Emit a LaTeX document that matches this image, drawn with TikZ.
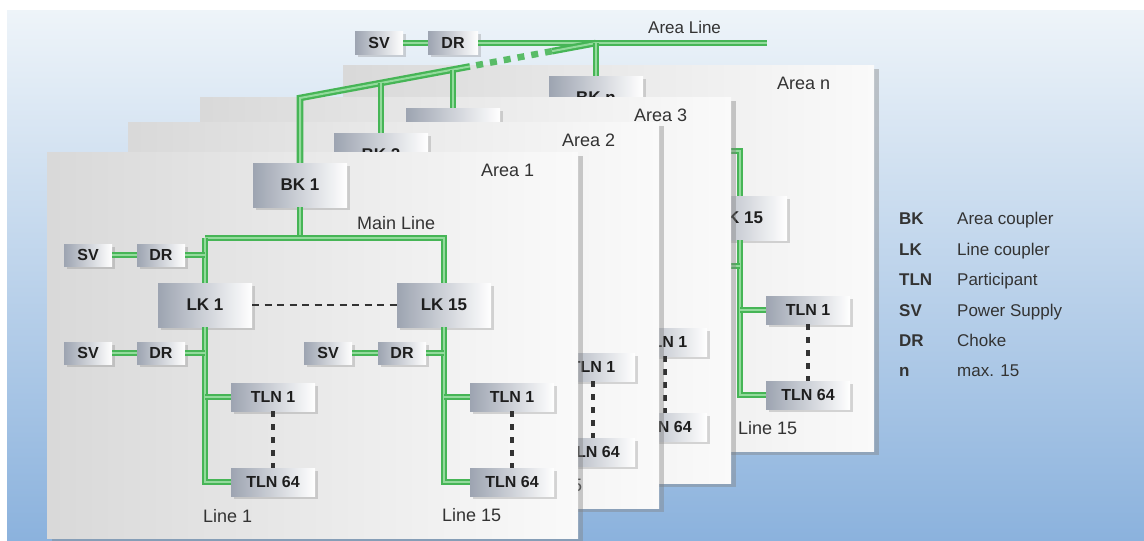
\documentclass[tikz,border=0pt]{standalone}
\usepackage{fontspec}
\setmainfont{Liberation Sans}
\usetikzlibrary{shadows,calc}
\definecolor{bgtop}{HTML}{EEF4F9}
\definecolor{bgbot}{HTML}{8BB2DD}
\definecolor{busg}{HTML}{46B556}
\definecolor{busl}{HTML}{93DA9C}
\definecolor{boxl}{HTML}{9DA4B1}
\definecolor{txt}{HTML}{1E1E1E}
\definecolor{lbltxt}{HTML}{333333}
\tikzset{
 panelbox/.style={anchor=north west, minimum width=531pt, minimum height=386pt, inner sep=0pt,
   left color=gray!30, right color=gray!4,
   drop shadow={shadow xshift=5pt, shadow yshift=-4pt, opacity=0.4}},
 dev/.style={inner sep=0pt, left color=boxl, right color=white, text=txt,
   drop shadow={shadow xshift=2.5pt, shadow yshift=-2.5pt, opacity=0.3}},
 bigdev/.style={dev, minimum width=94pt, minimum height=44pt, font=\bfseries\fontsize{17pt}{17pt}\selectfont},
 tlndev/.style={dev, minimum width=84pt, minimum height=28pt, font=\bfseries\fontsize{16pt}{16pt}\selectfont},
 smalldev/.style={dev, minimum width=48pt, minimum height=22pt, font=\bfseries\fontsize{16pt}{16pt}\selectfont},
 lbl/.style={inner sep=0pt, text=lbltxt, font=\fontsize{18pt}{18pt}\selectfont, anchor=base west},
 legkey/.style={inner sep=0pt, text=lbltxt, font=\bfseries\fontsize{17pt}{17pt}\selectfont, anchor=base west},
 legtxt/.style={inner sep=0pt, text=lbltxt, font=\fontsize{17pt}{17pt}\selectfont, anchor=base west},
 bus/.style={draw=busg, line width=2.3pt, double=busl, double distance=2pt},
 busdash/.style={draw=busg!90, line width=6.5pt, dash pattern=on 7pt off 7pt},
 lkdash/.style={draw=black!80, line width=2.5pt, dash pattern=on 7pt off 5.5pt},
 tlndot/.style={draw=black!80, line width=3.5pt, dash pattern=on 6pt off 7pt},
}
% #1 x, #2 y, #3 id, #4 area label, #5 BK label, #6 = 1 draws the left half (only visible on the front panel)
\newcommand\areapanel[6]{%
\begin{scope}[shift={(#1,#2)}]
\node[panelbox] (pan#3) at (0,0) {};
\node[lbl] (alab#3) at (434,24) {#4};
\node[bigdev] (bk#3) at (253,33) {#5};
\node[bigdev] (lkb#3) at (397,153) {LK 15};
\node[smalldev] (drc#3) at (355,201) {DR};
\node[tlndev] (tc#3) at (465,245) {TLN 1};
\node[tlndev] (td#3) at (465,330) {TLN 64};
\node[lbl] (lfif#3) at (395,369) {Line 15};
\coordinate (mj#3) at (253,86);
\coordinate (ml#3) at (158,86);
\coordinate (mr#3) at (397,86);
\draw[bus] (bk#3.south) -- (mj#3);
\draw[bus] (ml#3) -- (mr#3) -- (lkb#3.north);
\draw[bus] (lkb#3.south) |- (td#3.west);
\draw[bus] (tc#3.west) -- (tc#3.west -| lkb#3.south);
\draw[bus] (drc#3.east) -- (drc#3.east -| lkb#3.south);
\draw[tlndot] (tc#3.south) -- (td#3.north);
\ifnum#6=1
\node[lbl] (mlab#3) at (310,77) {Main Line};
\node[smalldev] (sva#3) at (41,103) {SV};
\node[smalldev] (dra#3) at (114,103) {DR};
\node[bigdev] (lka#3) at (158,153) {LK 1};
\node[smalldev] (svb#3) at (41,201) {SV};
\node[smalldev] (drb#3) at (114,201) {DR};
\node[smalldev] (svc#3) at (281,201) {SV};
\node[tlndev] (ta#3) at (226,245) {TLN 1};
\node[tlndev] (tb#3) at (226,330) {TLN 64};
\node[lbl] (lone#3) at (156,370) {Line 1};
\draw[bus] (lka#3.north) -- (ml#3);
\draw[bus] (lka#3.south) |- (tb#3.west);
\draw[bus] (ta#3.west) -- (ta#3.west -| lka#3.south);
\draw[bus] (sva#3.east) -- (dra#3.west);
\draw[bus] (dra#3.east) -- (dra#3.east -| lka#3.north);
\draw[bus] (svb#3.east) -- (drb#3.west);
\draw[bus] (drb#3.east) -- (drb#3.east -| lka#3.south);
\draw[bus] (svc#3.east) -- (drc#3.west);
\draw[lkdash] (lka#3.east) -- (lkb#3.west);
\draw[tlndot] (ta#3.south) -- (tb#3.north);
\fi
\end{scope}}
\begin{document}
\begin{tikzpicture}[x=1pt,y=-1pt]
\useasboundingbox (0,0) rectangle (1144,541);
\fill[white] (0,0) rectangle (1144,541);
\shade[top color=bgtop, bottom color=bgbot] (7,10) rectangle (1144,541);
\areapanel{343}{65}{n}{Area n}{BK n}{0}
\areapanel{200}{97}{3}{Area 3}{BK 3}{0}
\areapanel{128}{122}{2}{Area 2}{BK 2}{0}
\areapanel{47}{152}{1}{Area 1}{BK 1}{1}
% area line
\node[smalldev, minimum height=23pt] (svt) at (379,43) {SV};
\node[smalldev, minimum height=23pt, minimum width=50pt] (drt) at (453,43) {DR};
\node[lbl, font=\fontsize{17pt}{17pt}\selectfont] (altxt) at (648,33) {Area Line};
\coordinate (aend) at (767,43);
\coordinate (aj) at (596,43);
\coordinate (ac) at (300,98);
\coordinate (da) at ($(aj)!0.149!(ac)$);
\coordinate (db) at ($(aj)!0.426!(ac)$);
\coordinate (d3) at ($(aj)!0.483!(ac)$);
\coordinate (d2) at ($(aj)!0.726!(ac)$);
\draw[bus] (svt.east) -- (drt.west);
\draw[bus] (drt.east) -- (aend);
\draw[bus] (aj) -- (da);
\draw[busdash] (da) -- (db);
\draw[bus] (db) -- (ac) -- (bk1.north);
\draw[bus] (aj) -- (bkn.north);
\draw[bus] (d3) -- (d3 |- bk3.north);
\draw[bus] (d2) -- (d2 |- bk2.north);
% legend
\node[legkey] (k1) at (899,224) {BK};
\node[legkey] (k2) at (899,255) {LK};
\node[legkey] (k3) at (899,285) {TLN};
\node[legkey] (k4) at (899,316) {SV};
\node[legkey] (k5) at (899,346) {DR};
\node[legkey] (k6) at (899,376) {n};
\node[legtxt] (t1) at (957,224) {Area coupler};
\node[legtxt] (t2) at (957,255) {Line coupler};
\node[legtxt] (t3) at (957,285) {Participant};
\node[legtxt] (t4) at (957,316) {Power Supply};
\node[legtxt] (t5) at (957,346) {Choke};
\node[legtxt] (t6) at (957,376) {max. 15};
\end{tikzpicture}
\end{document}
